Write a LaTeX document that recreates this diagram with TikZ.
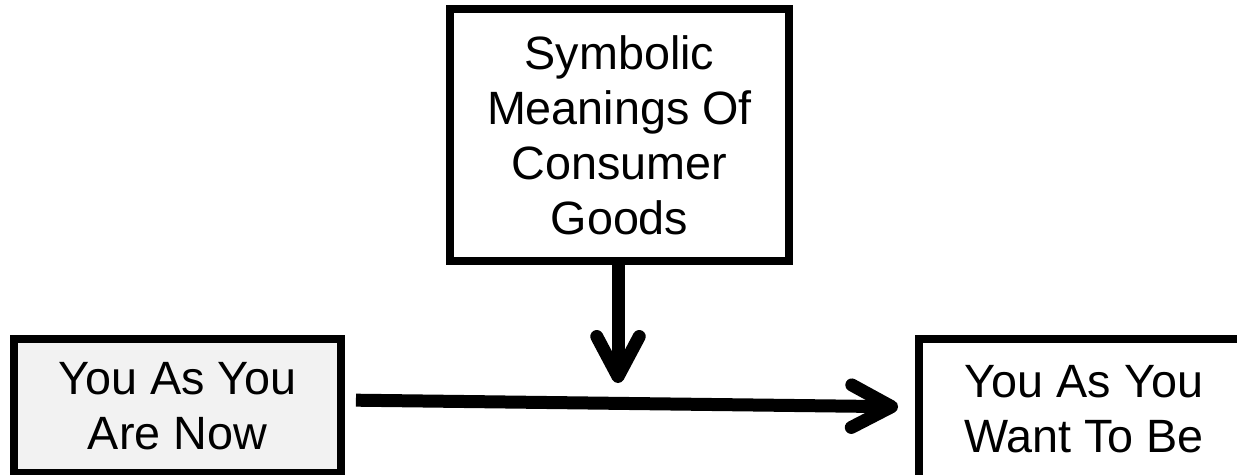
\documentclass[tikz,border=0pt]{standalone}
\usepackage{fontspec}
\setmainfont{Liberation Sans}
\usetikzlibrary{arrows.meta}

\begin{document}
\begin{tikzpicture}[x=0.02cm, y=-0.02cm,
		font=\fontsize{26.6pt}{31.3pt}\selectfont,
		box/.style={draw, line width=0.16cm, inner sep=0pt, outer sep=0pt, align=center},
		arrow/.style={line width=0.26cm, -{Straight Barb[length=0.8cm, width=0.85cm, round]}}]
	
	% Area del disegno
	\useasboundingbox (0,0) rectangle (1237,474);
	
	% Riquadro in alto
	\node[box, minimum width=6.78cm, minimum height=5.04cm] (goods) at (619.5,135)
		{Symbolic\\Meanings Of\\Consumer\\Goods};
	
	% Riquadri in basso
	\node[box, fill={rgb,255:red,242;green,242;blue,242}, minimum width=6.54cm, minimum height=2.68cm] (now) at (177.5,406)
		{You As You\\Are Now};
	\node[box, fill=white, minimum width=6.6cm, minimum height=2.8cm] (want) at (1084,409)
		{You As You\\Want To Be};
	
	% Frecce
	\coordinate (drop) at (618,383);
	\draw[arrow] (goods.south -| drop) -- (drop);
	\draw[arrow, shorten <=0.3cm, shorten >=0.42cm] ([yshift=0.12cm]now.east) -- ([yshift=0.04cm]want.west);
	
\end{tikzpicture}
\end{document}
